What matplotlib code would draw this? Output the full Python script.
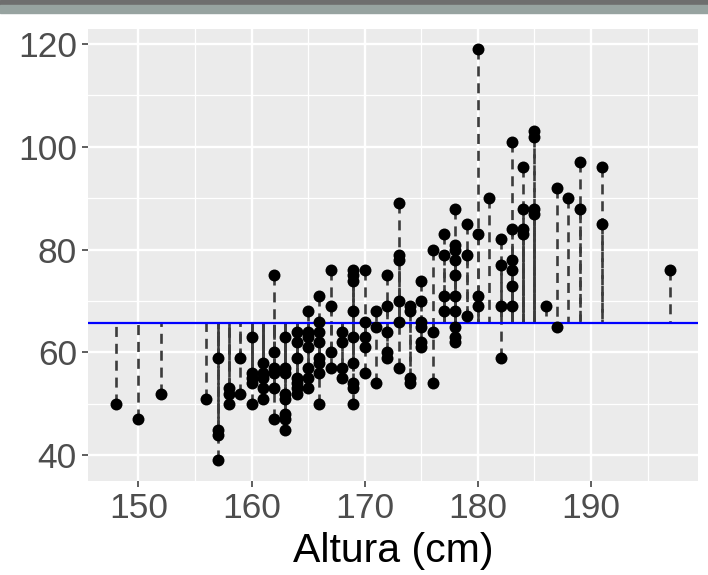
import matplotlib.pyplot as plt
from matplotlib.patches import Rectangle
from matplotlib.ticker import MultipleLocator

# Altura (cm) y peso (kg) de cada persona, agrupados por altura
alturas = ([148] + [150] + [152] + [156]
           + [157] * 4 + [158] * 3 + [159] * 2 + [160] * 5 + [161] * 5
           + [162] * 6 + [163] * 8 + [164] * 7 + [165] * 7 + [166] * 8
           + [167] * 4 + [168] * 4 + [169] * 9 + [170] * 5 + [171] * 3
           + [172] * 5 + [173] * 6 + [174] * 4 + [175] * 6 + [176] * 3
           + [177] * 4 + [178] * 10 + [179] * 3 + [180] * 4 + [181]
           + [182] * 4 + [183] * 6 + [184] * 4 + [185] * 4 + [186]
           + [187] * 2 + [188] + [189] * 2 + [191] * 2 + [197])
pesos = [50, 47, 52, 51,
         59, 45, 44, 39,
         53, 52, 50,
         59, 52,
         63, 56, 55, 54, 50,
         58, 56, 55, 53, 51,
         75, 60, 57, 56, 53, 47,
         63, 57, 56, 52, 51, 48, 47, 45,
         64, 62, 59, 55, 54, 53, 52,
         68, 64, 63, 61, 57, 55, 53,
         71, 66, 64, 62, 59, 58, 56, 50,
         76, 69, 60, 57,
         64, 62, 57, 55,
         76, 75, 74, 68, 63, 58, 54, 53, 50,
         76, 66, 63, 61, 56,
         68, 65, 54,
         75, 69, 64, 60, 59,
         89, 79, 78, 70, 66, 57,
         69, 68, 55, 54,
         74, 70, 66, 65, 62, 61,
         80, 64, 54,
         83, 79, 71, 68,
         88, 81, 80, 78, 75, 71, 68, 65, 63, 62,
         85, 79, 67,
         119, 83, 71, 69,
         90,
         82, 77, 69, 59,
         101, 84, 78, 76, 73, 69,
         96, 88, 84, 83,
         103, 102, 88, 87,
         69,
         92, 65,
         90,
         97, 88,
         96, 85,
         76]
media_peso = 65.7

plt.rcParams['font.family'] = ['Liberation Sans', 'DejaVu Sans']

fig = plt.figure(figsize=(7.08, 5.75), dpi=100)

# barras de la captura de pantalla arriba
fig.patches.append(Rectangle((0, 1 - 5 / 575), 1, 5 / 575, transform=fig.transFigure,
                             color='#6e6e6e', zorder=0))
fig.patches.append(Rectangle((0, 1 - 13 / 575), 1, 8 / 575, transform=fig.transFigure,
                             color='#97a3a0', zorder=0))

ax = fig.add_axes([88 / 708, 1 - 481 / 575, 610 / 708, (481 - 28.6) / 575])
ax.set_facecolor('#ebebeb')

# segmentos discontinuos hasta la media
ax.vlines(alturas, pesos, media_peso, colors='#3c3c3c', linewidth=1.9,
          linestyles=(0, (3.8, 2.6)), zorder=2)
ax.axhline(media_peso, color='#0000ff', linewidth=1.6, zorder=2.5)
ax.scatter(alturas, pesos, s=74, color='black', linewidths=0, zorder=3)

ax.set_xlim(145.55, 199.45)
ax.set_ylim(35, 123)
ax.xaxis.set_major_locator(MultipleLocator(10))
ax.xaxis.set_minor_locator(MultipleLocator(5))
ax.yaxis.set_major_locator(MultipleLocator(20))
ax.yaxis.set_minor_locator(MultipleLocator(10))

ax.set_axisbelow(True)
ax.grid(which='major', color='white', linewidth=1.7)
ax.grid(which='minor', color='white', linewidth=0.9)
for s in ax.spines.values():
    s.set_visible(False)

ax.tick_params(which='major', length=4.5, width=1.1, color='#333333',
               labelcolor='#4d4d4d', labelsize=25.5, pad=3.5)
ax.tick_params(which='minor', length=0)

ax.set_xlabel('Altura (cm)', fontsize=29.5, color='black', labelpad=5)

fig.savefig('out.png', dpi=100)
